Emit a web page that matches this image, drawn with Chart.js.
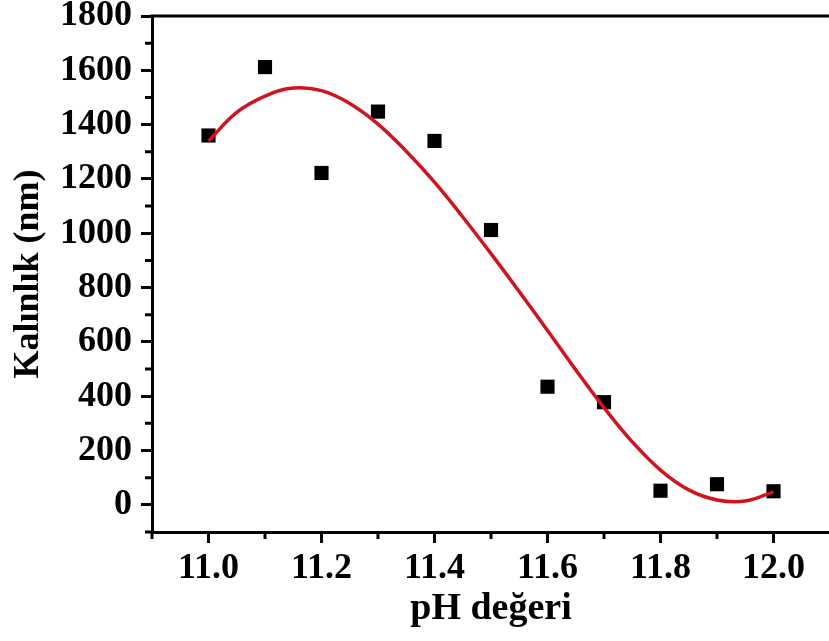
<!DOCTYPE html>
<html>
<head>
<meta charset="utf-8">
<script src="https://cdn.jsdelivr.net/npm/chart.js@4.4.0/dist/chart.umd.min.js"></script>
<style>
  html, body { margin: 0; padding: 0; background: #fff; overflow: hidden; }
  canvas { display: block; }
</style>
</head>
<body>
<canvas id="thicknessChart" width="840" height="641"></canvas>
<script>
  // measured film thickness vs pH
  const phValues = [11.0, 11.1, 11.2, 11.3, 11.4, 11.5, 11.6, 11.7, 11.8, 11.9, 12.0];
  const thicknessValues = [1360, 1612, 1222, 1448, 1340, 1012, 435, 378, 52, 76, 50];

  // fitted curve
  const fitPh = [11.0, 11.05, 11.1, 11.15, 11.2, 11.25, 11.3, 11.35, 11.4, 11.45, 11.5,
    11.55, 11.6, 11.65, 11.7, 11.75, 11.8, 11.85, 11.9, 11.95, 12.0];
  const fitThickness = [1340, 1445, 1505, 1535, 1525, 1478, 1402, 1302, 1188, 1060, 925,
    785, 642, 497, 358, 232, 128, 55, 18, 14, 48];

  // axis ticks
  const xTicks = [11.0, 11.2, 11.4, 11.6, 11.8, 12.0];
  const xTickLabels = ["11.0", "11.2", "11.4", "11.6", "11.8", "12.0"];
  const xMinorTicks = [10.9, 11.1, 11.3, 11.5, 11.7, 11.9];
  const yTicks = [0, 200, 400, 600, 800, 1000, 1200, 1400, 1600, 1800];
  const yTickLabels = ["0", "200", "400", "600", "800", "1000", "1200", "1400", "1600", "1800"];
  const yMinorTicks = [-100, 100, 300, 500, 700, 900, 1100, 1300, 1500, 1700];

  const FONT = "'Liberation Serif', 'Times New Roman', serif";

  // top frame line + short minor ticks
  const axisExtras = {
    id: "axisExtras",
    afterDraw(chart) {
      const ctx = chart.ctx;
      const area = chart.chartArea;
      const xs = chart.scales.x;
      const ys = chart.scales.y;
      ctx.save();
      ctx.strokeStyle = "#000";
      ctx.lineWidth = 3;
      ctx.beginPath();
      ctx.moveTo(area.left - 1.5, area.top);
      ctx.lineTo(area.right, area.top);
      xMinorTicks.forEach(function (v) {
        const px = xs.getPixelForValue(v);
        ctx.moveTo(px, area.bottom);
        ctx.lineTo(px, area.bottom + 7);
      });
      yMinorTicks.forEach(function (v) {
        const py = ys.getPixelForValue(v);
        ctx.moveTo(area.left, py);
        ctx.lineTo(area.left - 7, py);
      });
      ctx.stroke();
      ctx.restore();
    },
  };

  // keep the plot box where the picture has it
  function fixX(scale) {
    scale.height = 109;
    scale.paddingLeft = 0;
    scale.paddingRight = 0;
  }
  function fixY(scale) {
    scale.width = 152;
    scale.paddingTop = 0;
    scale.paddingBottom = 0;
  }

  new Chart(document.getElementById("thicknessChart"), {
    type: "scatter",
    data: {
      datasets: [
        {
          label: "Fit",
          data: fitPh.map(function (x, i) { return { x: x, y: fitThickness[i] }; }),
          showLine: true,
          borderColor: "#cf1420",
          borderWidth: 3.5,
          pointRadius: 0,
          tension: 0.4,
          fill: false,
        },
        {
          label: "Kalınlık",
          data: phValues.map(function (x, i) { return { x: x, y: thicknessValues[i] }; }),
          pointStyle: "rect",
          pointRadius: 10,
          pointBorderWidth: 0,
          backgroundColor: "#000",
          borderColor: "#000",
        },
      ],
    },
    options: {
      responsive: false,
      animation: false,
      layout: { padding: { top: 16, right: 0, left: 0, bottom: 0 } },
      plugins: {
        legend: { display: false },
        tooltip: { enabled: false },
      },
      scales: {
        x: {
          type: "linear",
          min: 10.9,
          max: 12.1,
          afterBuildTicks: function (scale) {
            scale.ticks = xTicks.map(function (v) { return { value: v }; });
          },
          afterFit: fixX,
          border: { display: true, color: "#000", width: 3 },
          grid: {
            drawOnChartArea: false,
            drawTicks: true,
            tickLength: 11,
            tickWidth: 3,
            tickColor: "#000",
          },
          ticks: {
            color: "#000",
            padding: 4,
            maxRotation: 0,
            font: { family: FONT, size: 36, weight: "bold" },
            callback: function (value, index) { return xTickLabels[index]; },
          },
          title: {
            display: true,
            text: "pH değeri",
            color: "#000",
            padding: { top: 0, bottom: 9 },
            font: { family: FONT, size: 38, weight: "bold" },
          },
        },
        y: {
          type: "linear",
          min: -100,
          max: 1800,
          afterBuildTicks: function (scale) {
            scale.ticks = yTicks.map(function (v) { return { value: v }; });
          },
          afterFit: fixY,
          border: { display: true, color: "#000", width: 3 },
          grid: {
            drawOnChartArea: false,
            drawTicks: true,
            tickLength: 11,
            tickWidth: 3,
            tickColor: "#000",
          },
          ticks: {
            color: "#000",
            padding: 9,
            font: { family: FONT, size: 36, weight: "bold" },
            callback: function (value, index) { return yTickLabels[index]; },
          },
          title: {
            display: true,
            text: "Kalınlık (nm)",
            color: "#000",
            padding: { top: 7, bottom: 0 },
            font: { family: FONT, size: 36, weight: "bold" },
          },
        },
      },
    },
    plugins: [axisExtras],
  });
</script>
</body>
</html>
